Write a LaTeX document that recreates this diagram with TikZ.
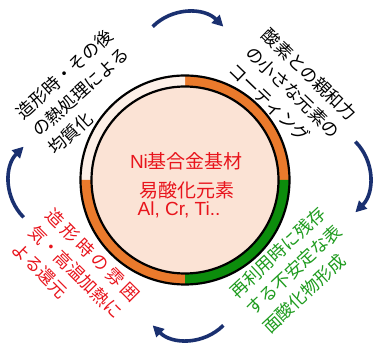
\documentclass[tikz,border=0pt]{standalone}
\usepackage{fontspec}
\setmainfont{Liberation Sans}
\newfontfamily\cjk{Noto Sans CJK JP}
\usetikzlibrary{arrows.meta,calc}
\definecolor{peach}{HTML}{FBE3D5}
\definecolor{palepeach}{HTML}{FDF0E8}
\definecolor{ringorange}{HTML}{EA7A2C}
\definecolor{ringgreen}{HTML}{0C8C0C}
\definecolor{navy}{HTML}{1A3070}
\definecolor{txtred}{HTML}{E8141C}
\definecolor{txtgreen}{HTML}{1E9B1E}
\begin{document}
\begin{tikzpicture}[x=1pt,y=1pt,
  cyc/.style={navy, line width=3.6pt, -{Triangle[length=11pt,width=11pt]}},
  side/.style={font=\cjk\fontsize{17.5}{24}\selectfont, align=left, inner sep=0pt},
  core/.style={font=\fontsize{19}{23}\selectfont, text=txtred, inner sep=0pt}]
\useasboundingbox (0,0) rectangle (373,343);
\coordinate (C) at (185,163);
\def\Ro{104.5}
\def\Ri{93.5}
% ring segments
\fill[ringorange] (C) -- ($(C)+(0:\Ro)$) arc[start angle=0,end angle=90,radius=\Ro] -- cycle;
\fill[palepeach] (C) -- ($(C)+(90:\Ro)$) arc[start angle=90,end angle=180,radius=\Ro] -- cycle;
\fill[ringorange] (C) -- ($(C)+(180:\Ro)$) arc[start angle=180,end angle=270,radius=\Ro] -- cycle;
\fill[ringgreen] (C) -- ($(C)+(270:\Ro)$) arc[start angle=270,end angle=360,radius=\Ro] -- cycle;
\node[circle, fill=peach, draw=black, line width=2.2pt, minimum size=2*\Ri pt, inner sep=0pt] (inner) at (C) {};
\node[circle, draw=black, line width=2.2pt, minimum size=2*\Ro pt, inner sep=0pt] (outer) at (C) {};
% centre text
\node[core] (t1) at (186.5,182) {Ni{\cjk 基合金基材}};
\node[core, anchor=west] (t2) at (139,153) {\cjk 易酸化元素};
\node[core, anchor=west] (t3) at (137.5,133) {Al, Cr, Ti..};
% side texts
\node[side, rotate=42] (tl) at (81,251) {造形時・その後\\の熱処理による\\均質化};
\node[side, rotate=-44] (tr) at (293,251) {酸素との親和力\\の小さな元素の\\コーティング};
\node[side, rotate=43, text=txtgreen] (br) at (294,73) {再利用時に残存\\する不安定な表\\面酸化物形成};
\node[side, rotate=-45, text=txtred] (bl) at (76,71) {\makebox[7em][s]{造\hfill 形\hfill 時\hfill の\hfill 雰\hfill 囲}\\気・高温加熱に\\よる還元};
% cycle arrows (circular arcs, radius 50)
\coordinate (ct) at (188,281);
\coordinate (cr) at (320,166);
\coordinate (cb) at (188,53);
\coordinate (cl) at (59,161);
\coordinate (a1) at ($(ct)+(135:50)$);
\coordinate (a2) at ($(cr)+(45:50)$);
\coordinate (a3) at ($(cb)+(-45:50)$);
\coordinate (a4) at ($(cl)+(225:50)$);
\draw[cyc] (a1) arc[start angle=135,end angle=45,radius=50];
\draw[cyc] (a2) arc[start angle=45,end angle=-45,radius=50];
\draw[cyc] (a3) arc[start angle=-45,end angle=-135,radius=50];
\draw[cyc] (a4) arc[start angle=225,end angle=135,radius=50];
\end{tikzpicture}
\end{document}
